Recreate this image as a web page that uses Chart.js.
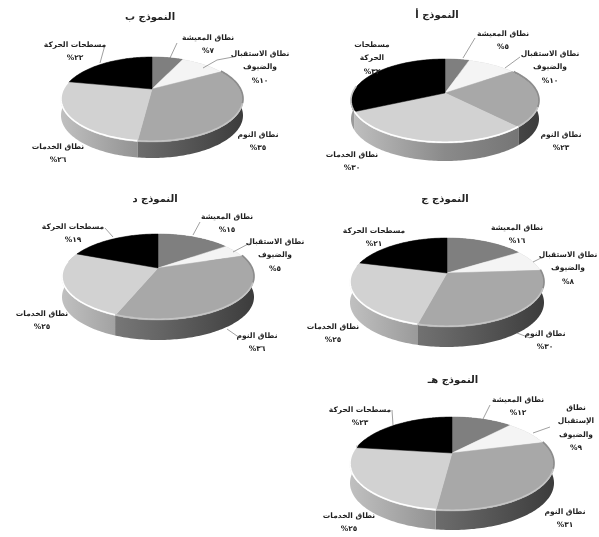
<!DOCTYPE html>
<html lang="ar" dir="rtl">
<head>
<meta charset="utf-8">
<title>النماذج</title>
<script src="https://cdn.jsdelivr.net/npm/chart.js@4/dist/chart.umd.min.js"></script>
<style>
    html, body { margin: 0; padding: 0; background: #fff; }
    body { position: relative; width: 599px; height: 537px; overflow: hidden; }
    canvas { position: absolute; filter: blur(0.55px); }
</style>
</head>
<body>
<script>
// --- DATA ---
const categories = ['نطاق المعيشة', 'نطاق الاستقبال والضيوف', 'نطاق النوم', 'نطاق الخدمات', 'مسطحات الحركة'];
const valuesAlef = [5, 10, 23, 30, 32];
const valuesBa = [7, 10, 35, 26, 22];
const valuesJim = [16, 8, 30, 25, 21];
const valuesDal = [15, 5, 36, 25, 19];
const valuesHa = [12, 9, 31, 25, 23];

// --- STYLE ---
const sliceColors = ['#7f7f7f', '#f4f4f4', '#a8a8a8', '#d2d2d2', '#000000'];
const wallStops = [
    ['#666666', '#555555'],
    ['#cccccc', '#aaaaaa'],
    ['#8c8c8c', '#666666', '#3c3c3c'],
    ['#c0c0c0', '#8a8a8a', '#707070'],
    ['#9a9a9a', '#888888']
];
const rimColors = ['#8a8a8a', '#ffffff', '#c4c4c4', '#ffffff', '#c8c8c8'];
const defaultLines = [['نطاق المعيشة'], ['نطاق الاستقبال', 'والضيوف'], ['نطاق النوم'], ['نطاق الخدمات'], ['مسطحات الحركة']];

// page positions of each small chart (label = first line centre, leader = page points)
const charts = [
    {
        title: 'النموذج ب', values: valuesBa,
        box: [0, 0, 300, 182], titleTop: 11,
        pie: { cx: 152, ay: 89, rx: 91, top: 57, bottom: 142, depth: 16 },
        labels: [[208, 38], [260, 54], [258, 135], [58, 147], [75, 45]],
        leaders: [[[177, 43], [170, 58]], [[233, 57], [217, 60], [203, 68]], null, null, [[105, 45], [100, 63]]]
    },
    {
        title: 'النموذج أ', values: valuesAlef,
        box: [280, 0, 314, 185], titleTop: 9,
        pie: { cx: 445, ay: 93, rx: 94, top: 59, bottom: 143, depth: 18 },
        labels: [[503, 34], [550, 54], [561, 135], [352, 155], [372, 45]],
        leaders: [[[475, 38], [463, 58]], [[520, 57], [505, 68]], null, null, null],
        lines: { 4: ['مسطحات', 'الحركة'] }
    },
    {
        title: 'النموذج د', values: valuesDal,
        box: [0, 185, 310, 180], titleTop: 8,
        pie: { cx: 158, ay: 268, rx: 96, top: 234, bottom: 320, depth: 20 },
        labels: [[227, 217], [275, 242], [257, 336], [42, 314], [73, 227]],
        leaders: [[[200, 222], [193, 235]], [[250, 243], [233, 252]], [[240, 338], [227, 329]], null, [[105, 228], [113, 237]]]
    },
    {
        title: 'النموذج ج', values: valuesJim,
        box: [292, 185, 306, 180], titleTop: 8,
        pie: { cx: 447, ay: 273, rx: 97, top: 238, bottom: 327, depth: 20 },
        labels: [[517, 228], [568, 255], [545, 334], [333, 327], [374, 231]],
        leaders: [null, [[543, 257], [533, 262]], [[530, 338], [517, 333]], null, null]
    },
    {
        title: 'النموذج هـ', values: valuesHa,
        box: [308, 365, 290, 172], titleTop: 9,
        pie: { cx: 452, ay: 453, rx: 102, top: 417, bottom: 511, depth: 19 },
        labels: [[518, 400], [576, 408], [565, 512], [349, 516], [360, 410]],
        leaders: [[[490, 405], [483, 419]], [[550, 427], [533, 433]], null, null, [[392, 410], [393, 425]]],
        lines: { 1: ['نطاق', 'الإستقبال', 'والضيوف'] }
    }
];

const arabicDigits = '٠١٢٣٤٥٦٧٨٩';
function toArabic(n) {
    return String(n).replace(/\d/g, d => arabicDigits[d]);
}

// --- 3D PIE PLUGIN ---
// the library works out each slice angle, this draws them tilted with a wall below
function makeProjection(p) {
    const up = p.ay - p.top, down = p.bottom - p.ay;
    const k = (up - down) / (up + down);
    const a = down * (1 + k);
    const c = p.rx * Math.sqrt(1 - k * k);
    return t => {
        const w = 1 + k * Math.sin(t);
        return [p.cx + c * Math.cos(t) / w, p.ay + a * Math.sin(t) / w];
    };
}

function rimPoints(project, start, end) {
    const pts = [];
    const steps = Math.max(2, Math.ceil((end - start) / 0.02));
    for (let i = 0; i <= steps; i++) {
        pts.push(project(start + (end - start) * i / steps));
    }
    return pts;
}

function strokeRim(ctx, project, start, end, color) {
    if (end <= start) return;
    const pts = rimPoints(project, start, end);
    ctx.beginPath();
    pts.forEach(([x, y], j) => j ? ctx.lineTo(x, y - 0.8) : ctx.moveTo(x, y - 0.8));
    ctx.strokeStyle = color;
    ctx.lineWidth = 1.6;
    ctx.stroke();
}

const pie3d = {
    id: 'pie3d',
    beforeDatasetsDraw(chart, args, opts) {
        const ctx = chart.ctx;
        const p = opts.pie;
        const [boxX, boxY] = opts.box;
        const project = makeProjection(p);
        const arcs = chart.getDatasetMeta(0).data;

        ctx.save();
        ctx.translate(-boxX, -boxY);

        // walls first, the top face covers the back part
        arcs.forEach((arc, i) => {
            const pts = rimPoints(project, arc.startAngle, arc.endAngle);
            const grad = ctx.createLinearGradient(p.cx - p.rx, 0, p.cx + p.rx, 0);
            wallStops[i].forEach((col, j) => grad.addColorStop(j / (wallStops[i].length - 1), col));
            ctx.beginPath();
            pts.forEach(([x, y], j) => j ? ctx.lineTo(x, y) : ctx.moveTo(x, y));
            pts.slice().reverse().forEach(([x, y]) => ctx.lineTo(x, y + p.depth));
            ctx.closePath();
            ctx.fillStyle = grad;
            ctx.fill();
        });

        // top face
        arcs.forEach(arc => {
            const pts = rimPoints(project, arc.startAngle, arc.endAngle);
            ctx.beginPath();
            ctx.moveTo(p.cx, p.ay);
            pts.forEach(([x, y]) => ctx.lineTo(x, y));
            ctx.closePath();
            ctx.fillStyle = arc.options.backgroundColor;
            ctx.strokeStyle = arc.options.backgroundColor;
            ctx.lineWidth = 0.5;
            ctx.fill();
            ctx.stroke();
        });

        // light edge along the front of the rim, darker on the right of the sleep slice
        arcs.forEach((arc, i) => {
            strokeRim(ctx, project, Math.max(arc.startAngle, 0.35), Math.min(arc.endAngle, Math.PI + 0.15), rimColors[i]);
            if (i === 2) strokeRim(ctx, project, Math.max(arc.startAngle, -0.6), Math.min(arc.endAngle, 0.35), '#8c8c8c');
        });

        // leaders and labels
        ctx.strokeStyle = '#777777';
        ctx.lineWidth = 0.7;
        opts.leaders.forEach(line => {
            if (!line) return;
            ctx.beginPath();
            line.forEach(([x, y], j) => j ? ctx.lineTo(x, y) : ctx.moveTo(x, y));
            ctx.stroke();
        });

        ctx.font = 'bold 7.5px "DejaVu Sans"';
        ctx.fillStyle = '#1f1f1f';
        ctx.textAlign = 'center';
        ctx.textBaseline = 'middle';
        ctx.direction = 'rtl';
        opts.labels.forEach(([x, y], i) => {
            const lines = (opts.lines && opts.lines[i]) || defaultLines[i];
            const text = lines.concat(toArabic(chart.data.datasets[0].data[i]) + '%');
            text.forEach((line, j) => ctx.fillText(line, x, y + j * 13.5));
        });

        ctx.restore();
        return false;
    }
};

// --- BUILD ---
charts.forEach(cfg => {
    const canvas = document.createElement('canvas');
    const [left, top, width, height] = cfg.box;
    canvas.width = width;
    canvas.height = height;
    canvas.style.left = left + 'px';
    canvas.style.top = top + 'px';
    document.body.appendChild(canvas);

    new Chart(canvas, {
        type: 'pie',
        data: {
            labels: categories,
            datasets: [{ data: cfg.values, backgroundColor: sliceColors, borderWidth: 0 }]
        },
        plugins: [pie3d],
        options: {
            responsive: false,
            animation: false,
            devicePixelRatio: 1,
            plugins: {
                legend: { display: false },
                tooltip: { enabled: false },
                title: {
                    display: true,
                    text: cfg.title,
                    color: '#222222',
                    font: { family: '"DejaVu Sans"', size: 10, weight: 'bold' },
                    padding: { top: cfg.titleTop, bottom: 0 }
                },
                pie3d: { pie: cfg.pie, box: cfg.box, labels: cfg.labels, leaders: cfg.leaders, lines: cfg.lines }
            }
        }
    });
});
</script>
</body>
</html>
